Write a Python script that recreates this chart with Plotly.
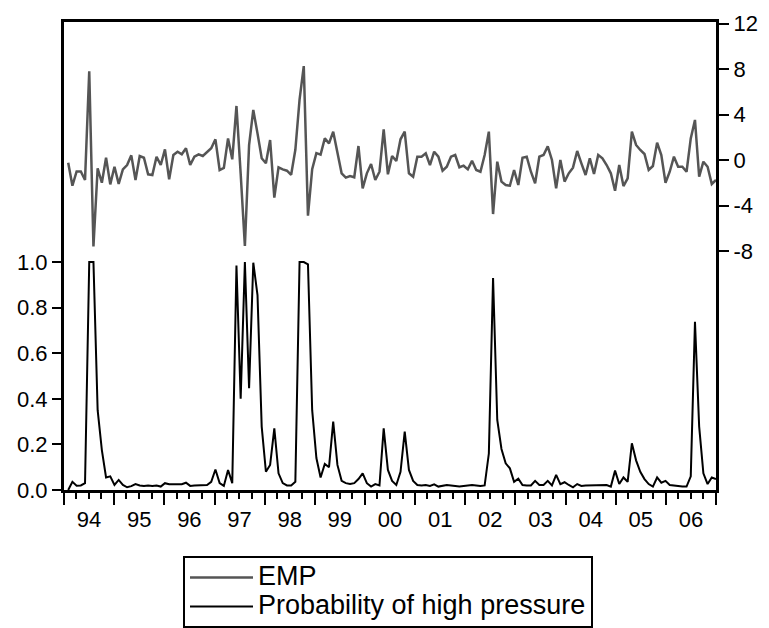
import pandas as pd
import plotly.graph_objects as go

# Observation positions: 155 evenly spaced observations ending at the start of 2007
dates = pd.date_range("1994-01-01", "2007-01-01", periods=156)[1:]

emp = [
    -0.24, -2.26, -1.0, -1.0, -1.76, 7.8, -7.6, -0.73, -2.0, 0.2,
    -2.14, -0.59, -2.1, -0.82, -0.44, 0.41, -1.76, 0.35, 0.2, -1.26,
    -1.32, 0.29, -0.44, 0.94, -1.7, 0.44, 0.73, 0.5, 1.03, -0.44,
    0.29, 0.5, 0.35, 0.65, 1.03, 1.82, -0.88, -0.7, 1.9, 0.06,
    4.75, -1.2, -7.56, 1.32, 4.4, 2.34, 0.15, -0.29, 1.76, -3.3,
    -0.64, -0.82, -0.94, -1.3, 0.9, 5.3, 8.26, -4.9, -0.8, 0.6,
    0.47, 1.9, 1.46, 2.49, 0.59, -1.17, -1.55, -1.41, -1.52, 1.23,
    -2.49, -1.17, -0.35, -1.76, -1.03, 2.7, -1.26, 0.35, -0.09, 1.82,
    2.49, -1.17, -1.47, 0.29, 0.29, 0.59, -0.44, 0.73, 0.29, -0.94,
    -0.59, 0.29, 0.44, -0.64, -0.5, -0.82, -0.06, -0.88, -1.03, 0.44,
    2.49, -4.75, -0.15, -1.9, -2.2, -2.26, -0.88, -2.2, 0.2, 0.29,
    -1.03, -2.05, 0.29, 0.44, 1.2, 0.0, -2.49, 0.0, -1.9, -1.17,
    -0.67, 0.79, -0.29, -1.32, 0.15, -1.23, 0.44, 0.15, -0.44, -1.17,
    -2.7, -0.44, -2.29, -1.61, 2.49, 1.32, 0.88, 0.53, -0.88, -0.53,
    1.52, 0.44, -2.0, -1.03, 0.29, -0.59, -0.59, -1.03, 1.9, 3.52,
    -1.47, -0.15, -0.59, -2.11, -1.76,
]

prob = [
    0.0, 0.036, 0.019, 0.02, 0.03, 1.0, 1.0, 0.35, 0.175, 0.055,
    0.06, 0.022, 0.044, 0.022, 0.012, 0.017, 0.026, 0.02, 0.018, 0.02,
    0.018, 0.02, 0.015, 0.03, 0.025, 0.025, 0.022, 0.025, 0.032, 0.018,
    0.02, 0.02, 0.022, 0.022, 0.036, 0.09, 0.03, 0.018, 0.088, 0.03,
    0.985, 0.40, 1.0, 0.446, 0.997, 0.855, 0.278, 0.08, 0.11, 0.27,
    0.073, 0.03, 0.02, 0.02, 0.036, 1.0, 1.0, 0.99, 0.35, 0.14,
    0.055, 0.114, 0.1, 0.3, 0.11, 0.04, 0.03, 0.026, 0.03, 0.048,
    0.073, 0.03, 0.015, 0.026, 0.02, 0.27, 0.088, 0.04, 0.022, 0.08,
    0.256, 0.088, 0.04, 0.022, 0.02, 0.022, 0.018, 0.025, 0.015, 0.02,
    0.022, 0.02, 0.018, 0.015, 0.018, 0.02, 0.022, 0.02, 0.018, 0.02,
    0.16, 0.93, 0.307, 0.18, 0.117, 0.095, 0.036, 0.05, 0.022, 0.02,
    0.02, 0.04, 0.022, 0.022, 0.04, 0.02, 0.066, 0.026, 0.034, 0.022,
    0.012, 0.026, 0.018, 0.02, 0.02, 0.022, 0.02, 0.02, 0.022, 0.015,
    0.085, 0.026, 0.055, 0.036, 0.205, 0.13, 0.08, 0.048, 0.026, 0.015,
    0.055, 0.032, 0.04, 0.022, 0.02, 0.015, 0.015, 0.015, 0.06, 0.738,
    0.278, 0.073, 0.026, 0.055, 0.048,
]

series_names = ["EMP", "Probability of high pressure"]
left_ticks = [0.0, 0.2, 0.4, 0.6, 0.8, 1.0]
right_ticks = [-8, -4, 0, 4, 8, 12]
right_tick_labels = ["-8", "-4", "0", "4", "8", "12"]

FONT = "Liberation Sans, Arial, sans-serif"

# The page body adds an 8px offset, so the figure is 8px smaller than the window
W, H = 761, 620
PL, PR, PT, PB = 56, 708, 14, 482  # plot-area edges in figure pixels
PW, PH = PR - PL, PB - PT


def legend_label(name):
    return '<span style="font-size:27px">' + name + "</span>"


fig = go.Figure()
fig.add_trace(go.Scatter(
    x=dates, y=emp, name=legend_label(series_names[0]), mode="lines",
    yaxis="y2", line=dict(color="#555555", width=2.5),
))
fig.add_trace(go.Scatter(
    x=dates, y=prob, name=legend_label(series_names[1]), mode="lines",
    yaxis="y", line=dict(color="black", width=2),
))

fig.update_layout(
    width=W, height=H,
    margin=dict(l=PL, r=W - PR, t=PT, b=H - PB, autoexpand=False),
    paper_bgcolor="white", plot_bgcolor="white",
    font=dict(family=FONT, size=22, color="black"),
    showlegend=True,
    legend=dict(
        x=(175 - PL) / PW, y=(PB - 548) / PH,
        xanchor="left", yanchor="top",
        bordercolor="black", borderwidth=2, bgcolor="white",
        font=dict(family=FONT, size=20, color="black"),
        itemwidth=63, tracegroupgap=0,
    ),
    xaxis=dict(
        type="date",
        range=["1994-01-01", "2007-01-01"],
        tickmode="linear", tick0="1994-01-01", dtick="M12",
        tickformat="%y", ticklabelmode="period",
        ticks="outside", ticklen=12, tickwidth=2, tickcolor="black",
        ticklabelstandoff=-4,
        showline=True, linewidth=3, linecolor="black", mirror=True,
        showgrid=False, zeroline=False,
        minor=dict(dtick="M3", tick0="1994-01-01", ticks="outside",
                   ticklen=6, tickwidth=2, tickcolor="black", showgrid=False),
        tickfont=dict(family=FONT, size=22, color="black"),
    ),
    yaxis=dict(
        range=[0, PH / 228],
        tickmode="array", tickvals=left_ticks, tickformat=".1f",
        ticks="outside", ticklen=9, tickwidth=2, tickcolor="black",
        showline=True, linewidth=3, linecolor="black",
        showgrid=False, zeroline=False,
        tickfont=dict(family=FONT, size=22, color="black"),
    ),
    yaxis2=dict(
        overlaying="y", side="right",
        range=[-(482 - 152) / 11.375, (152 - PT) / 11.375],
        tickmode="array", tickvals=right_ticks, ticktext=right_tick_labels,
        ticks="outside", ticklen=10, tickwidth=2, tickcolor="black",
        showline=True, linewidth=3, linecolor="black",
        showgrid=False, zeroline=False,
        tickfont=dict(family=FONT, size=22, color="black"),
    ),
)

fig.write_html("out.html")
